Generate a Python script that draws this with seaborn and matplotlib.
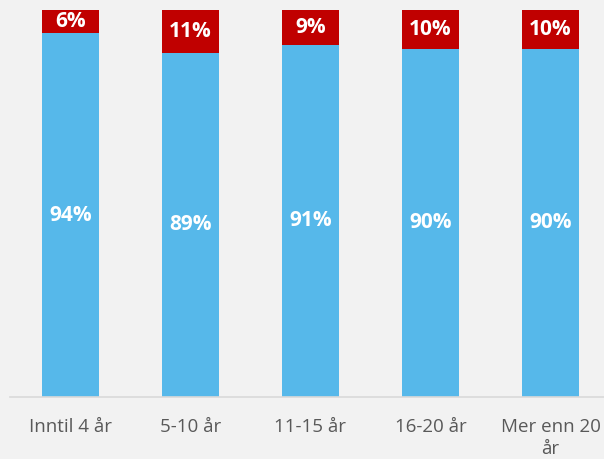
import matplotlib
matplotlib.use("Agg")
import matplotlib.pyplot as plt
import seaborn as sns
import pandas as pd

categories = ["Inntil 4 år", "5-10 år", "11-15 år", "16-20 år", "Mer enn 20\når"]
share_yes = [94, 89, 91, 90, 90]
share_no = [6, 11, 9, 10, 10]

blue = "#56B8EA"
red = "#C00000"
bg = "#F2F2F2"

sns.set_theme(style="white")
plt.rcParams["font.family"] = ["Open Sans", "DejaVu Sans"]

df = pd.DataFrame({"cat": categories, "yes": share_yes, "no": share_no})
df["total"] = df["yes"] + df["no"]

fig = plt.figure(figsize=(6.04, 4.59), dpi=100, facecolor=bg)
ax = fig.add_axes([10 / 604, (459 - 397) / 459, 1 - 10 / 604, 387 / 459])
ax.set_facecolor(bg)

sns.barplot(data=df, x="cat", y="total", color=red, width=0.475, ax=ax,
            saturation=1, linewidth=0)
sns.barplot(data=df, x="cat", y="yes", color=blue, width=0.475, ax=ax,
            saturation=1, linewidth=0)

for i, (y, n) in enumerate(zip(share_yes, share_no)):
    ax.text(i, y / 2, f"{y}%", ha="center", va="center", color="white",
            fontsize=15, fontweight="bold")
    ax.text(i, y + n / 2, f"{n}%", ha="center", va="center", color="white",
            fontsize=15, fontweight="bold")

ax.set_ylim(0, 100)
ax.set_xlim(-0.504, 4.446)
ax.set_xlabel("")
ax.set_ylabel("")
ax.set_yticks([])
for s in ["top", "right", "left"]:
    ax.spines[s].set_visible(False)
ax.spines["bottom"].set_color("#D9D9D9")
ax.spines["bottom"].set_linewidth(1.2)
ax.tick_params(axis="x", length=0, pad=15, labelsize=13.5, labelcolor="#595959")
for lab in ax.get_xticklabels():
    lab.set_linespacing(1.3)

fig.savefig("out.png", dpi=100, facecolor=bg)
